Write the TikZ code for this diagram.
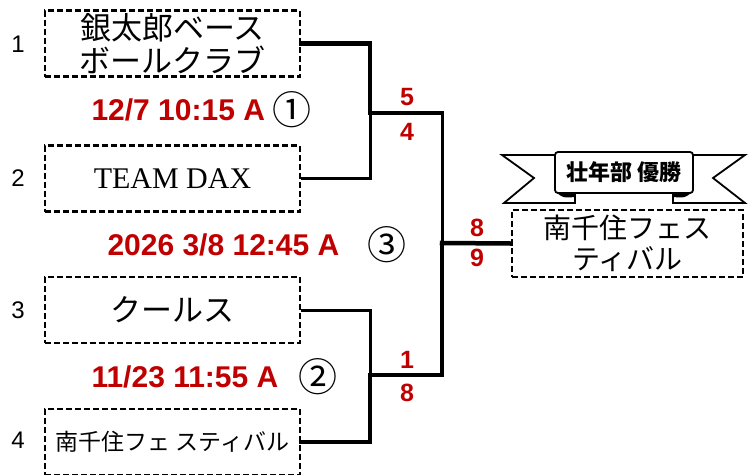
\documentclass[tikz,border=0pt]{standalone}
\usepackage{fontspec}
\setmainfont{Liberation Serif}
\newfontfamily\jpfont{Noto Sans CJK JP}
\newfontfamily\arialfont{Liberation Sans}
\definecolor{scorered}{RGB}{192,0,0}

\begin{document}
\begin{tikzpicture}[x=1pt, y=-1pt,
    team/.style={draw, line width=2.6pt, dash pattern=on 6pt off 3pt, minimum width=255pt, minimum height=66pt, inner sep=0pt, align=center, font=\jpfont\fontsize{31}{33}\selectfont},
    seed/.style={font=\arialfont\fontsize{24}{24}\selectfont},
    score/.style={text=scorered, font=\arialfont\bfseries\fontsize{25}{25}\selectfont},
    date/.style={anchor=west, text=scorered, font=\arialfont\bfseries\fontsize{30}{30}\selectfont},
    no/.style={font=\jpfont\fontsize{39}{39}\selectfont},
    win/.style={line width=4.5pt, line cap=rect},
    lose/.style={line width=3pt},
    tail/.style={draw, fill=white, line width=1.8pt, line join=miter}]
        \useasboundingbox (0,0) rectangle (749,474);
        % teams
        \node[team] (t1) at (172.5,43.5) {銀太郎ベース\\ボールクラブ};
        \node[team, font=\rmfamily\fontsize{30}{33}\selectfont] (t2) at (172.5,178.5) {TEAM DAX};
        \node[team] (t3) at (172.5,310) {クールス};
        \node[team, font=\jpfont\fontsize{23}{26}\selectfont] (t4) at (172.5,442) {南千住フェ スティバル};
        \node[team, minimum width=231pt, minimum height=67pt, font=\jpfont\fontsize{28}{31}\selectfont] (champ) at (627.5,243.5) {南千住フェス\\ティバル};
        % seeds
        \node[seed] (s1) at (18,44) {1};
        \node[seed] (s2) at (18,178) {2};
        \node[seed] (s3) at (18,310) {3};
        \node[seed] (s4) at (18,440) {4};
        % dates
        \node[date] (d1) at (88,110) {12/7 10:15 A};
        \node[no] (n1) at (292,110) {①};
        \node[date] (d3) at (104,245) {2026 3/8 12:45 A};
        \node[no] (n3) at (387,245) {③};
        \node[date] (d2) at (88,377) {11/23 11:55 A};
        \node[no] (n2) at (318,377) {②};
        % scores
        \node[score] (a1) at (407,97) {5};
        \node[score] (b1) at (407,132) {4};
        \node[score] (a2) at (407,360) {1};
        \node[score] (b2) at (407,393) {8};
        \node[score] (a3) at (477,228) {8};
        \node[score] (b3) at (477,258) {9};
        % bracket
        \coordinate (m1) at (370,113);
        \coordinate (m2) at (370,375);
        \coordinate (j1) at (442,113);
        \coordinate (f) at (442,243);
        \draw[win] (t1.east) -| (m1);
        \draw[lose] (t2.east) -| (m1);
        \draw[lose] (t3.east) -| (m2);
        \draw[win] (t4.east) -| (m2);
        \draw[win] (m1) -- (j1);
        \draw[lose] (j1) -- (f);
        \draw[win] (m2) -| (f);
        \draw[win] (f) -- (champ.west);
        % ribbon
        \path[tail] (560,155) -- (502,155) -- (534,178) -- (504,203) -- (575,203) -- (575,194);
        \path[tail] (688,155) -- (745,155) -- (713,178) -- (745,203) -- (673,203) -- (673,194);
        \fill (556,192) .. controls (563,198) .. (575,197) -- (575,192) -- cycle;
        \fill (692,192) .. controls (685,198) .. (673,197) -- (673,192) -- cycle;
        \node[draw, fill=white, line width=1.8pt, rounded corners=3pt, minimum width=138pt, minimum height=41pt, inner sep=0pt, font=\jpfont\bfseries\fontsize{22}{22}\selectfont] (title) at (624,172.5) {壮年部 優勝};
    \end{tikzpicture}
\end{document}
